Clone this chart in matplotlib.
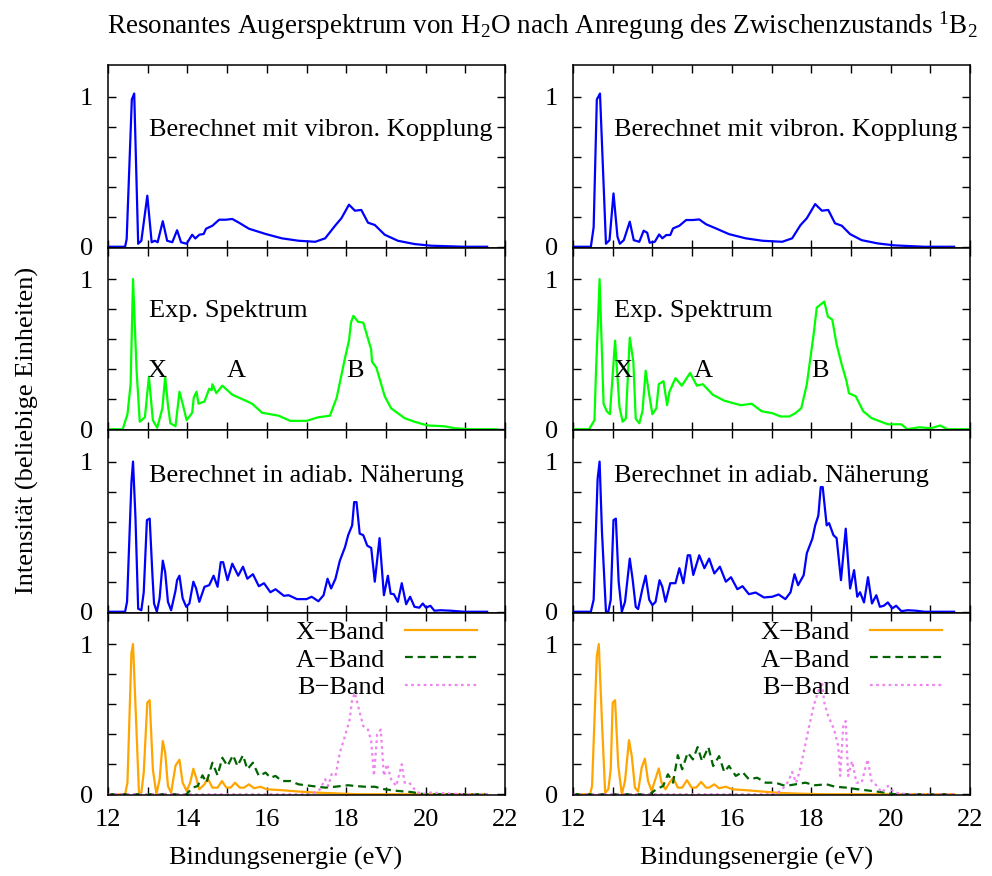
import matplotlib
matplotlib.use("Agg")
import matplotlib.pyplot as plt

plt.rcParams['font.family'] = ['Liberation Serif', 'DejaVu Serif']
plt.rcParams['mathtext.fontset'] = 'custom'
plt.rcParams['mathtext.rm'] = 'Liberation Serif'
plt.rcParams['mathtext.it'] = 'Liberation Serif:italic'
plt.rcParams['font.size'] = 19

# --- data ---
# row 1: berechnet mit vibronischer Kopplung
vib_l_x = [12.0, 12.43, 12.47, 12.6, 12.66, 12.76, 12.84, 12.99, 13.1, 13.18, 13.25, 13.38, 13.49, 13.62,
           13.74, 13.84, 13.98, 14.12, 14.2, 14.3, 14.41, 14.47, 14.63, 14.8, 14.97, 15.13, 15.3, 15.55,
           15.97, 16.38, 16.8, 17.22, 17.47, 17.72, 17.88, 18.07, 18.22, 18.38, 18.55, 18.72, 18.97, 19.3,
           19.72, 20.13, 20.97, 21.55]
vib_l_y = [0, 0, 0.05, 0.98, 1.02, 0.02, 0.04, 0.34, 0.03, 0.04, 0.03, 0.17, 0.04, 0.03,
           0.11, 0.03, 0.02, 0.08, 0.055, 0.08, 0.085, 0.12, 0.14, 0.18, 0.18, 0.185, 0.16, 0.12,
           0.085, 0.056, 0.04, 0.033, 0.056, 0.14, 0.19, 0.28, 0.24, 0.245, 0.16, 0.145, 0.08, 0.04,
           0.018, 0.007, 0.0, 0.0]
vib_r_x = [12.0, 12.45, 12.52, 12.6, 12.68, 12.83, 12.92, 13.02, 13.12, 13.18, 13.28, 13.43, 13.53, 13.67,
           13.78, 13.87, 13.93, 14.06, 14.17, 14.25, 14.35, 14.45, 14.52, 14.68, 14.85, 15.02, 15.18, 15.35,
           15.6, 15.93, 16.35, 16.77, 17.27, 17.52, 17.73, 17.89, 18.1, 18.27, 18.43, 18.6, 18.77, 18.98,
           19.27, 19.68, 20.1, 20.85, 21.6]
vib_r_y = [0, 0, 0.13, 0.98, 1.02, 0.02, 0.044, 0.355, 0.067, 0.02, 0.044, 0.167, 0.044, 0.033,
           0.107, 0.093, 0.027, 0.033, 0.082, 0.056, 0.078, 0.078, 0.122, 0.14, 0.178, 0.178, 0.182, 0.15,
           0.122, 0.084, 0.056, 0.04, 0.033, 0.056, 0.144, 0.19, 0.284, 0.24, 0.245, 0.156, 0.14, 0.084,
           0.044, 0.022, 0.009, 0.0, 0.0]

# row 2: experimentelles Spektrum
exp_l_x = [12.05, 12.37, 12.49, 12.57, 12.63, 12.72, 12.8, 12.93, 13.03, 13.13, 13.24, 13.37, 13.44, 13.51,
           13.57, 13.7, 13.8, 13.88, 13.98, 14.12, 14.16, 14.23, 14.28, 14.43, 14.55, 14.61, 14.63, 14.73,
           14.88, 15.13, 15.47, 15.63, 15.88, 16.3, 16.59, 17.0, 17.3, 17.59, 17.76, 17.97, 18.07, 18.12,
           18.18, 18.3, 18.43, 18.63, 18.65, 18.76, 18.97, 19.13, 19.47, 19.72, 20.05, 20.47, 20.72, 21.13,
           21.8]
exp_l_y = [0, 0, 0.10, 0.30, 1.0, 0.39, 0.05, 0.08, 0.35, 0.06, 0.01, 0.14, 0.35, 0.16,
           0.04, 0.02, 0.25, 0.17, 0.06, 0.11, 0.21, 0.25, 0.17, 0.185, 0.27, 0.26, 0.30, 0.24,
           0.29, 0.23, 0.19, 0.17, 0.11, 0.09, 0.056, 0.056, 0.08, 0.09, 0.21, 0.475, 0.59, 0.71,
           0.755, 0.715, 0.71, 0.53, 0.45, 0.41, 0.22, 0.14, 0.074, 0.05, 0.025, 0.02, 0.007, 0.0,
           0.0]
exp_r_x = [12.02, 12.39, 12.42, 12.54, 12.58, 12.67, 12.77, 12.85, 12.93, 13.06, 13.17, 13.25, 13.33, 13.43,
           13.52, 13.58, 13.67, 13.75, 13.83, 13.92, 14.0, 14.1, 14.16, 14.28, 14.37, 14.43, 14.58, 14.74,
           14.95, 15.12, 15.27, 15.52, 15.81, 16.23, 16.5, 16.75, 17.02, 17.23, 17.45, 17.6, 17.75, 17.89,
           18.06, 18.14, 18.33, 18.42, 18.53, 18.64, 18.77, 18.89, 18.95, 19.12, 19.31, 19.52, 19.93, 20.27,
           20.42, 20.72, 21.02, 21.25, 21.43, 22.0]
exp_r_y = [0, 0, 0.007, 0.06, 0.39, 1.0, 0.17, 0.12, 0.10, 0.59, 0.15, 0.05, 0.07, 0.61,
           0.45, 0.07, 0.04, 0.12, 0.39, 0.23, 0.10, 0.14, 0.30, 0.32, 0.16, 0.25, 0.34, 0.29,
           0.375, 0.29, 0.30, 0.23, 0.19, 0.16, 0.17, 0.12, 0.107, 0.085, 0.085, 0.107, 0.14, 0.30,
           0.63, 0.81, 0.85, 0.75, 0.73, 0.565, 0.43, 0.32, 0.24, 0.22, 0.12, 0.074, 0.033, 0.033,
           0.0, 0.013, 0.007, 0.025, 0.0, 0.0]

# row 3: berechnet in adiabatischer Naeherung
adi_l_x = [12.0, 12.43, 12.48, 12.59, 12.63, 12.69, 12.76, 12.84, 12.9, 12.98, 13.05, 13.12, 13.16, 13.23,
           13.3, 13.38, 13.44, 13.51, 13.59, 13.7, 13.74, 13.8, 13.88, 13.97, 14.05, 14.15, 14.22, 14.3,
           14.43, 14.55, 14.66, 14.76, 14.84, 14.9, 15.01, 15.13, 15.28, 15.4, 15.51, 15.65, 15.8, 15.93,
           16.09, 16.22, 16.43, 16.55, 16.76, 17.0, 17.13, 17.3, 17.43, 17.53, 17.62, 17.73, 17.84, 17.97,
           18.05, 18.15, 18.2, 18.26, 18.34, 18.43, 18.53, 18.63, 18.72, 18.84, 18.95, 19.05, 19.12, 19.2,
           19.3, 19.4, 19.51, 19.61, 19.72, 19.84, 19.93, 20.01, 20.12, 20.22, 20.38, 20.63, 20.97, 21.55]
adi_l_y = [0, 0, 0.066, 0.86, 1.0, 0.64, 0.02, 0.01, 0.13, 0.61, 0.62, 0.24, 0.055, 0.0,
           0.09, 0.34, 0.265, 0.066, 0.01, 0.14, 0.21, 0.24, 0.09, 0.033, 0.055, 0.20, 0.155, 0.066,
           0.166, 0.177, 0.24, 0.166, 0.33, 0.33, 0.21, 0.32, 0.24, 0.30, 0.22, 0.25, 0.17, 0.19,
           0.13, 0.15, 0.106, 0.11, 0.084, 0.084, 0.10, 0.07, 0.11, 0.22, 0.155, 0.22, 0.34, 0.43,
           0.51, 0.575, 0.73, 0.73, 0.52, 0.51, 0.44, 0.425, 0.20, 0.49, 0.11, 0.24, 0.12, 0.117,
           0.066, 0.19, 0.05, 0.10, 0.033, 0.027, 0.055, 0.027, 0.04, 0.007, 0.01, 0.007, 0.0, 0.0]
adi_r_x = [12.0, 12.45, 12.52, 12.62, 12.67, 12.73, 12.83, 12.89, 12.95, 13.02, 13.08, 13.15, 13.23, 13.31,
           13.43, 13.5, 13.58, 13.64, 13.75, 13.83, 13.92, 14.0, 14.08, 14.18, 14.25, 14.33, 14.45, 14.58,
           14.68, 14.78, 14.89, 14.95, 15.03, 15.18, 15.31, 15.43, 15.56, 15.7, 15.85, 15.98, 16.14, 16.27,
           16.43, 16.6, 16.81, 17.02, 17.18, 17.35, 17.48, 17.58, 17.67, 17.81, 17.89, 18.03, 18.1, 18.18,
           18.24, 18.29, 18.39, 18.45, 18.56, 18.64, 18.75, 18.87, 18.98, 19.08, 19.16, 19.23, 19.33, 19.43,
           19.53, 19.64, 19.73, 19.83, 19.93, 20.04, 20.14, 20.27, 20.43, 20.64, 20.85, 21.6]
adi_r_y = [0, 0, 0.08, 0.885, 1.0, 0.53, 0.0, 0.0, 0.08, 0.61, 0.62, 0.20, 0.0, 0.066,
           0.354, 0.22, 0.033, 0.018, 0.155, 0.24, 0.08, 0.044, 0.066, 0.21, 0.166, 0.066, 0.19, 0.19,
           0.29, 0.19, 0.376, 0.376, 0.245, 0.376, 0.29, 0.354, 0.255, 0.30, 0.20, 0.23, 0.15, 0.17,
           0.117, 0.128, 0.095, 0.10, 0.115, 0.084, 0.13, 0.25, 0.177, 0.243, 0.39, 0.487, 0.575, 0.64,
           0.83, 0.83, 0.575, 0.59, 0.51, 0.49, 0.21, 0.553, 0.155, 0.277, 0.10, 0.13, 0.062, 0.23,
           0.055, 0.11, 0.033, 0.04, 0.062, 0.022, 0.04, 0.004, 0.01, 0.007, 0.0, 0.0]

# row 4: Beitraege der einzelnen Baender
xb_l_x = [12.0, 12.43, 12.49, 12.59, 12.63, 12.7, 12.78, 12.84, 12.9, 12.99, 13.05, 13.13, 13.22, 13.3,
          13.38, 13.44, 13.51, 13.59, 13.7, 13.8, 13.88, 13.98, 14.07, 14.15, 14.23, 14.3, 14.43, 14.51,
          14.63, 14.76, 14.87, 14.98, 15.09, 15.2, 15.32, 15.43, 15.55, 15.68, 15.84, 16.0, 16.38, 16.8,
          17.22, 17.63, 18.3, 21.55]
xb_l_y = [0, 0, 0.077, 0.94, 1.0, 0.54, 0.01, 0.01, 0.144, 0.61, 0.626, 0.166, 0.0, 0.10,
          0.354, 0.277, 0.055, 0.01, 0.19, 0.23, 0.077, 0.022, 0.077, 0.17, 0.10, 0.033, 0.066, 0.106,
          0.044, 0.044, 0.088, 0.044, 0.044, 0.077, 0.044, 0.044, 0.066, 0.04, 0.05, 0.033, 0.027, 0.018,
          0.011, 0.007, 0.0, 0.0]
ab_l_x = [12.0, 13.98, 14.13, 14.26, 14.38, 14.48, 14.63, 14.76, 14.88, 15.01, 15.15, 15.26, 15.4, 15.51,
          15.65, 15.8, 15.97, 16.09, 16.22, 16.38, 16.59, 16.8, 17.13, 17.47, 17.72, 18.05, 18.22, 18.47,
          18.72, 18.97, 19.3, 19.63, 19.97, 21.55]
ab_l_y = [0, 0, 0.044, 0.055, 0.126, 0.077, 0.21, 0.126, 0.243, 0.188, 0.26, 0.188, 0.26, 0.166,
          0.21, 0.122, 0.144, 0.11, 0.122, 0.088, 0.088, 0.066, 0.055, 0.044, 0.05, 0.06, 0.055, 0.05,
          0.05, 0.033, 0.022, 0.015, 0.0, 0.0]
bb_l_x = [12.0, 17.13, 17.34, 17.47, 17.55, 17.63, 17.73, 17.84, 17.97, 18.09, 18.15, 18.22, 18.3, 18.43,
          18.55, 18.63, 18.7, 18.78, 18.87, 18.95, 19.03, 19.13, 19.26, 19.4, 19.47, 19.59, 19.72, 19.88,
          20.13, 20.97, 21.55]
bb_l_y = [0, 0, 0.033, 0.10, 0.055, 0.133, 0.122, 0.277, 0.387, 0.50, 0.63, 0.675, 0.586, 0.454,
          0.43, 0.354, 0.122, 0.40, 0.43, 0.122, 0.20, 0.10, 0.055, 0.20, 0.077, 0.077, 0.033, 0.0,
          0.011, 0.0, 0.0]
xb_r_x = [12.0, 12.43, 12.48, 12.6, 12.65, 12.73, 12.81, 12.89, 12.95, 13.0, 13.06, 13.14, 13.23, 13.31,
          13.41, 13.48, 13.56, 13.64, 13.73, 13.81, 13.89, 13.98, 14.06, 14.16, 14.23, 14.33, 14.43, 14.52,
          14.64, 14.75, 14.87, 14.99, 15.1, 15.23, 15.35, 15.43, 15.56, 15.68, 15.85, 16.02, 16.35, 16.77,
          17.18, 17.68, 18.35, 21.6]
xb_r_y = [0, 0, 0.055, 0.92, 1.0, 0.48, 0.01, 0.033, 0.166, 0.61, 0.626, 0.19, 0.0, 0.088,
          0.36, 0.254, 0.044, 0.018, 0.177, 0.237, 0.088, 0.022, 0.088, 0.172, 0.077, 0.033, 0.077, 0.11,
          0.044, 0.044, 0.093, 0.044, 0.044, 0.082, 0.044, 0.044, 0.066, 0.04, 0.05, 0.033, 0.027, 0.018,
          0.009, 0.004, 0.0, 0.0]
ab_r_x = [12.0, 13.93, 14.1, 14.27, 14.39, 14.52, 14.64, 14.75, 14.89, 15.02, 15.14, 15.25, 15.41, 15.53,
          15.68, 15.81, 15.93, 16.1, 16.27, 16.43, 16.64, 16.85, 17.1, 17.35, 17.6, 17.85, 18.1, 18.39,
          18.6, 18.89, 19.18, 19.52, 19.85, 20.1, 21.6]
ab_r_y = [0, 0, 0.033, 0.055, 0.133, 0.077, 0.26, 0.166, 0.277, 0.232, 0.314, 0.22, 0.314, 0.188,
          0.254, 0.148, 0.188, 0.122, 0.148, 0.10, 0.11, 0.077, 0.077, 0.055, 0.066, 0.077, 0.06, 0.066,
          0.05, 0.044, 0.033, 0.022, 0.011, 0.0, 0.0]
bb_r_x = [12.0, 17.1, 17.27, 17.43, 17.52, 17.62, 17.7, 17.81, 17.93, 18.06, 18.18, 18.27, 18.33, 18.43,
          18.58, 18.68, 18.73, 18.81, 18.87, 18.93, 19.03, 19.14, 19.27, 19.42, 19.52, 19.64, 19.78, 19.93,
          20.1, 20.43, 21.6]
bb_r_y = [0, 0, 0.033, 0.088, 0.148, 0.077, 0.144, 0.277, 0.43, 0.586, 0.69, 0.75, 0.61, 0.52,
          0.43, 0.32, 0.122, 0.465, 0.487, 0.122, 0.22, 0.077, 0.077, 0.232, 0.088, 0.06, 0.011, 0.055,
          0.011, 0.0, 0.0]

title = r'Resonantes Augerspektrum von H$_2$O nach Anregung des Zwischenzustands $^1$B$_2$'
row_labels = ['Berechnet mit vibron. Kopplung', 'Exp. Spektrum',
              'Berechnet in adiab. N\u00e4herung', None]
row_label_y = [0.775, 0.79, 0.907, None]
band_names = ['X', 'A', 'B']
band_pos_l = [13.23, 15.23, 18.22]
band_pos_r = [13.27, 15.27, 18.22]
legend_labels = ['X\u2212Band', 'A\u2212Band', 'B\u2212Band']

# --- figure ---
fig = plt.figure(figsize=(9.92, 8.76), dpi=100)

W, H = 992.0, 876.0
top_px, panel_px = 65.0, 182.5
col_left_px = [108.0, 573.0]
col_w_px = 397.0

blue = '#0000ff'
lime = '#00ff00'
orange = '#ffa500'
dgreen = '#006400'
violet = '#ee82ee'

curves = [
    [[(vib_l_x, vib_l_y, blue, '-', None)], [(vib_r_x, vib_r_y, blue, '-', None)]],
    [[(exp_l_x, exp_l_y, lime, '-', None)], [(exp_r_x, exp_r_y, lime, '-', None)]],
    [[(adi_l_x, adi_l_y, blue, '-', None)], [(adi_r_x, adi_r_y, blue, '-', None)]],
    [[(xb_l_x, xb_l_y, orange, '-', legend_labels[0]),
      (ab_l_x, ab_l_y, dgreen, (0, (3.5, 2.2)), legend_labels[1]),
      (bb_l_x, bb_l_y, violet, (0, (1.2, 1.6)), legend_labels[2])],
     [(xb_r_x, xb_r_y, orange, '-', legend_labels[0]),
      (ab_r_x, ab_r_y, dgreen, (0, (3.5, 2.2)), legend_labels[1]),
      (bb_r_x, bb_r_y, violet, (0, (1.2, 1.6)), legend_labels[2])]],
]

for row in range(4):
    for col in range(2):
        bottom = 1 - (top_px + (row + 1) * panel_px) / H
        ax = fig.add_axes([col_left_px[col] / W, bottom, col_w_px / W, panel_px / H])
        for xs, ys, c, ls, lab in curves[row][col]:
            ax.plot(xs, ys, color=c, lw=1.6, ls=ls, label=lab)
        ax.set_xlim(12, 22)
        ax.set_ylim(-0.005, 1.21)
        ax.set_xticks(range(12, 23))
        ax.set_yticks([0, 0.2, 0.4, 0.6, 0.8, 1.0])
        ax.set_yticklabels(['0', '', '', '', '', '1'])
        if row == 3:
            ax.set_xticklabels([str(v) if v % 2 == 0 else '' for v in range(12, 23)])
        else:
            ax.set_xticklabels([])
        ax.tick_params(direction='in', length=5.5, width=1.0, top=True, right=True,
                       labelsize=19, pad=11)
        ax.tick_params(axis='x', pad=10)
        for s in ax.spines.values():
            s.set_linewidth(1.1)
        if row_labels[row]:
            ax.text(13.03, row_label_y[row], row_labels[row], fontsize=19,
                    ha='left', va='center')
        if row == 1:
            pos = band_pos_l if col == 0 else band_pos_r
            for name, xp in zip(band_names, pos):
                ax.text(xp, 0.386, name, fontsize=19, ha='center', va='center')
        if row == 3:
            ax.legend(loc='upper right', bbox_to_anchor=(0.93, 0.955), frameon=False,
                      markerfirst=False, fontsize=19, handlelength=2.75, handletextpad=0.75,
                      labelspacing=0.15, borderpad=0, borderaxespad=0)

fig.text(542 / W, 1 - 26 / H, title, ha='center', va='center', fontsize=19.5)
fig.text(27 / W, 1 - 430 / H, 'Intensit\u00e4t (beliebige Einheiten)', rotation=90,
         ha='center', va='center', fontsize=19)
fig.text(286 / W, 1 - 858 / H, 'Bindungsenergie (eV)', ha='center', va='center', fontsize=19)
fig.text(757 / W, 1 - 858 / H, 'Bindungsenergie (eV)', ha='center', va='center', fontsize=19)

fig.savefig('out.png', dpi=100)
